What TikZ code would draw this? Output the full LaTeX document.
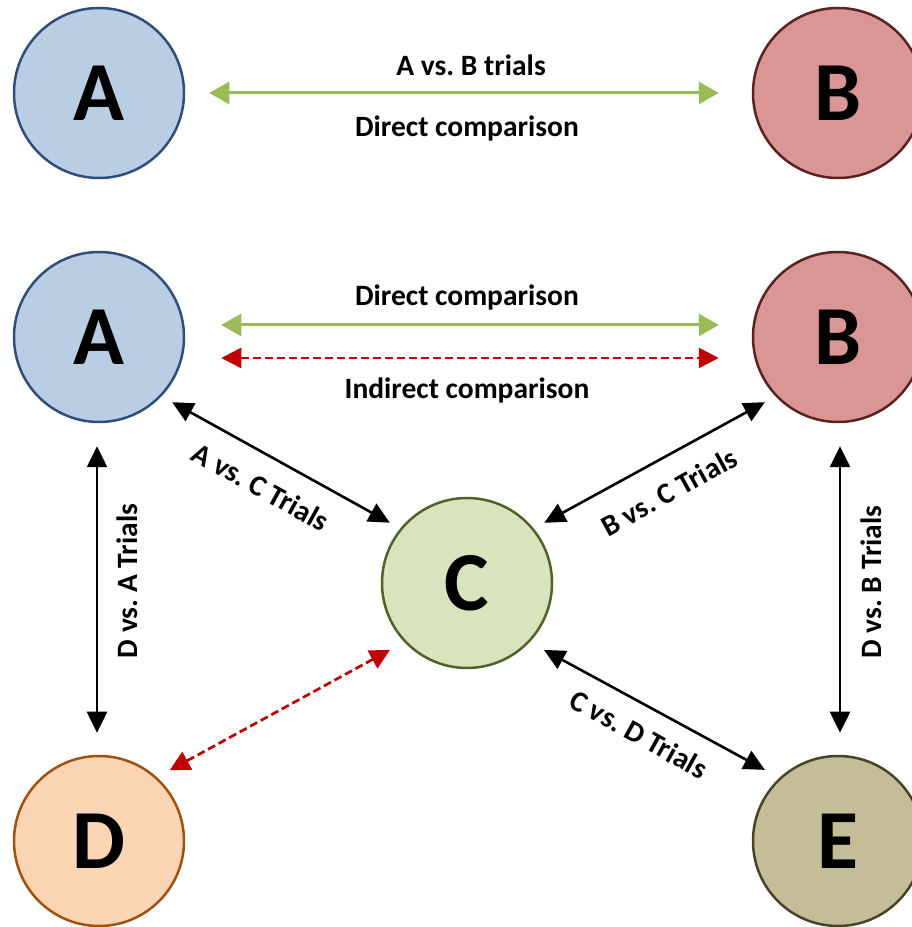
\documentclass[tikz,border=0pt]{standalone}
\usepackage{fontspec}
\setmainfont{Carlito}
\frenchspacing
\usetikzlibrary{arrows.meta}
\definecolor{aFill}{HTML}{B9CDE5}\definecolor{aDraw}{HTML}{2F4F7A}
\definecolor{bFill}{HTML}{D99694}\definecolor{bDraw}{HTML}{5A2221}
\definecolor{cFill}{HTML}{D7E4BD}\definecolor{cDraw}{HTML}{4F6228}
\definecolor{dFill}{HTML}{FCD5B5}\definecolor{dDraw}{HTML}{A0510F}
\definecolor{eFill}{HTML}{C4BD97}\definecolor{eDraw}{HTML}{494429}
\definecolor{grn}{HTML}{9BBB59}
\definecolor{rd}{HTML}{C00000}
\tikzset{
  ball/.style={circle, minimum size=170pt, inner sep=0pt, line width=2.5pt,
    font=\fontsize{84}{84}\selectfont\bfseries},
  lbl/.style={font=\fontsize{29.5}{31}\selectfont\bfseries, inner sep=0pt},
  greenarrow/.style={draw=grn, line width=3pt, {Triangle[length=20pt,width=22pt]}-{Triangle[length=20pt,width=22pt]}},
  redarrow/.style={draw=rd, line width=2.7pt, dash pattern=on 8pt off 4pt, {Triangle[length=20pt,width=20pt]}-{Triangle[length=20pt,width=20pt]}},
  blackarrow/.style={draw=black, line width=2.6pt, {Triangle[length=21pt,width=20pt]}-{Triangle[length=21pt,width=20pt]}},
}
\begin{document}
\begin{tikzpicture}[x=1pt,y=1pt]
\useasboundingbox (0,0) rectangle (912,927);
\clip (0,0) rectangle (912,927);
% top row
\node[ball, fill=aFill, draw=aDraw] (A1) at (99,834) {A};
\node[ball, fill=bFill, draw=bDraw] (B1) at (838,834) {B};
\draw[greenarrow, shorten <=24pt, shorten >=33pt] (A1.east) -- (B1.west);
\node[lbl] (t1) at (471,862) {A vs. B trials};
\node[lbl] (t2) at (467,799) {Direct comparison};
% network
\node[ball, fill=aFill, draw=aDraw] (A2) at (99,590) {A};
\node[ball, fill=bFill, draw=bDraw] (B2) at (838,590) {B};
\node[ball, fill=cFill, draw=cDraw] (C) at (467,344) {C};
\node[ball, fill=dFill, draw=dDraw] (D) at (99,86) {D};
\node[ball, fill=eFill, draw=eDraw] (E) at (838,86) {E};
\draw[greenarrow, shorten <=36pt, shorten >=33pt] ([yshift=12pt]A2.east) -- ([yshift=12pt]B2.west);
\draw[redarrow, shorten <=36pt, shorten >=33pt] ([yshift=-21pt]A2.east) -- ([yshift=-21pt]B2.west);
\node[lbl] (t3) at (467,630) {Direct comparison};
\node[lbl] (t4) at (467,537) {Indirect comparison};
% diagonal
\draw[blackarrow] ([shift={(-41.7:98)}]A2.center) -- ([shift={(142:98)}]C.center);
\draw[blackarrow] ([shift={(-138.3:98)}]B2.center) -- ([shift={(37.9:98)}]C.center);
\draw[blackarrow] ([shift={(-41:102)}]C.center) -- ([shift={(135.8:102)}]E.center);
\draw[redarrow] ([shift={(-139:102)}]C.center) -- ([shift={(45:100)}]D.center);
\node[lbl, rotate=-29] (t5) at (261,440) {A vs. C Trials};
\node[lbl, rotate=29] (t6) at (669,435) {B vs. C Trials};
\node[lbl, rotate=-29] (t7) at (639,193) {C vs. D Trials};
% vertical
\draw[blackarrow, shorten <=23pt, shorten >=22pt] ([xshift=-2pt]A2.south) -- ([xshift=-2pt]D.north);
\draw[blackarrow, shorten <=23pt, shorten >=22pt] ([xshift=2pt]B2.south) -- ([xshift=2pt]E.north);
\node[lbl, rotate=90] (t8) at (127,346) {D vs. A Trials};
\node[lbl, rotate=90] (t9) at (871,345) {D vs. B Trials};
\end{tikzpicture}
\end{document}
